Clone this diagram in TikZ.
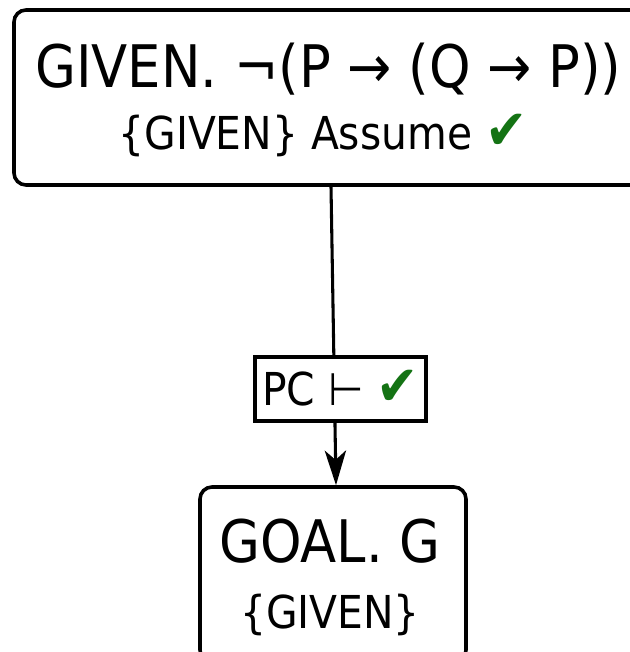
\documentclass[tikz,border=0pt]{standalone}
\usepackage{fontspec}
\setmainfont{DejaVu Sans Condensed}
\usetikzlibrary{arrows.meta}
\definecolor{chk}{RGB}{20,115,20}
\newcommand{\okmark}{{\fontsize{42}{44}\selectfont\textcolor{chk}{\textit{✔}}}}
\begin{document}
\begin{tikzpicture}[x=0.75pt,y=-0.75pt,
  box/.style={draw, line width=2.7pt, rounded corners=9pt, inner sep=0pt},
  big/.style={inner sep=0pt, anchor=base, font=\fontsize{44}{48}\selectfont},
  small/.style={inner sep=0pt, anchor=base, font=\fontsize{34}{38}\selectfont},
  lbl/.style={draw, fill=white, line width=2.4pt, inner sep=0pt, minimum width=128.25pt, minimum height=48pt},
  conn/.style={line width=2.3pt, -{Stealth[length=26pt, width=16pt, inset=7pt]}}]
\useasboundingbox (0,0) rectangle (629,652);
% boxes
\node[box, minimum width=475.5pt, minimum height=131.25pt] (top) at (331,97.5) {};
\node[box, minimum width=199.5pt, minimum height=131.25pt] (bot) at (333,574.5) {};
% texts
\node[big] (t1) at (328.5,88) {GIVEN. ¬(P → (Q → P))};
\node[small] (t2) at (323,150) {\{GIVEN\} Assume \okmark};
\node[big] (b1) at (330,562) {GOAL. G};
\node[small] (b2) at (330,628) {\{GIVEN\}};
% connector
\draw[conn] (top.south) -- ([xshift=2.25pt]bot.north);
\node[lbl] (rule) at (340.5,389) {};
\node[small] (rt) at (340.5,405) {PC ⊢ \okmark};
\end{tikzpicture}
\end{document}
